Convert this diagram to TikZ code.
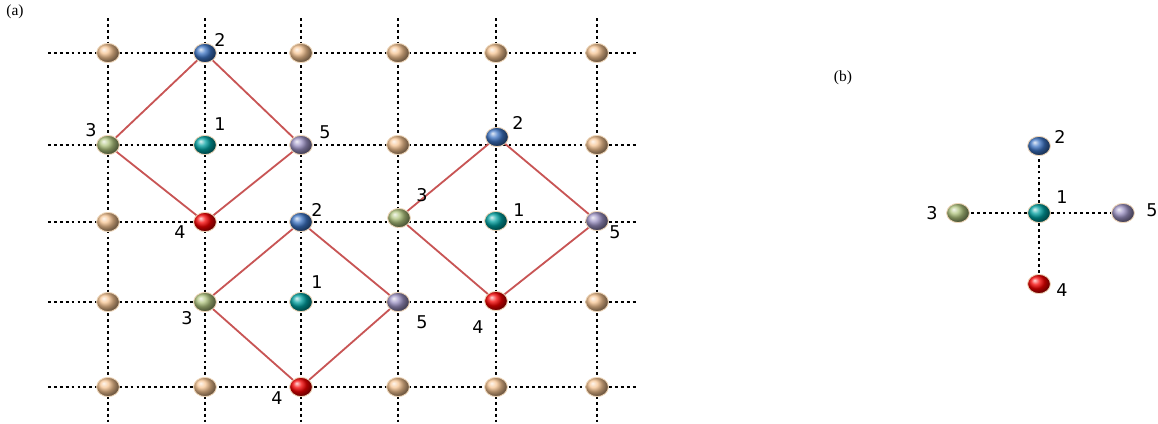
\documentclass[tikz,border=0pt]{standalone}
\usepackage{fontspec}
\setmainfont{Liberation Serif}
\newfontfamily\lblfont{DejaVu Sans}
\usepackage{tikz}
\usetikzlibrary{shapes}
\definecolor{tanc}{RGB}{245,195,145}
\definecolor{bluec}{RGB}{60,115,195}
\definecolor{tealc}{RGB}{0,160,160}
\definecolor{greenc}{RGB}{175,195,125}
\definecolor{lavc}{RGB}{155,145,195}
\definecolor{redc}{RGB}{245,0,0}
\definecolor{linkc}{RGB}{200,85,85}
\tikzstyle{atom}=[ellipse,draw={rgb,255:red,240;green,215;blue,185},line width=0.6pt,
inner sep=0pt,minimum width=0.57cm,minimum height=0.48cm,shading=ball]
\tikzstyle{lbl}=[font=\lblfont\fontsize{12.5}{13}\selectfont,inner sep=0pt]
\tikzstyle{lattice}=[line width=2pt,dash pattern=on 2pt off 2.2pt,black]
\tikzstyle{link}=[line width=1.3pt,linkc]

\begin{document}
\begin{tikzpicture}[x=0.025cm,y=-0.025cm]
        \useasboundingbox (0,0) rectangle (1158,423);
        % lattice lines
        \draw [style=lattice] (48,53) -- (636,53);
        \draw [style=lattice] (48,145) -- (636,145);
        \draw [style=lattice] (48,222) -- (636,222);
        \draw [style=lattice] (48,302) -- (636,302);
        \draw [style=lattice] (48,387) -- (636,387);
        \draw [style=lattice] (108,18) -- (108,423);
        \draw [style=lattice] (205,18) -- (205,423);
        \draw [style=lattice] (301,18) -- (301,423);
        \draw [style=lattice] (398,18) -- (398,423);
        \draw [style=lattice] (496,18) -- (496,423);
        \draw [style=lattice] (597,18) -- (597,423);
        % (a) sites, row by row
        \node [style=atom,ball color=tanc] (n11) at (108,53) {};
        \node [style=atom,ball color=bluec] (n21) at (205,53) {};
        \node [style=atom,ball color=tanc] (n31) at (301,53) {};
        \node [style=atom,ball color=tanc] (n41) at (398,53) {};
        \node [style=atom,ball color=tanc] (n51) at (496,53) {};
        \node [style=atom,ball color=tanc] (n61) at (597,53) {};
        \node [style=atom,ball color=greenc] (n12) at (108,145) {};
        \node [style=atom,ball color=tealc] (n22) at (205,145) {};
        \node [style=atom,ball color=lavc] (n32) at (301,145) {};
        \node [style=atom,ball color=tanc] (n42) at (398,145) {};
        \node [style=atom,ball color=bluec] (n52) at (497,137) {};
        \node [style=atom,ball color=tanc] (n62) at (597,145) {};
        \node [style=atom,ball color=tanc] (n13) at (108,222) {};
        \node [style=atom,ball color=redc] (n23) at (205,222) {};
        \node [style=atom,ball color=bluec] (n33) at (301,222) {};
        \node [style=atom,ball color=greenc] (n43) at (399,218) {};
        \node [style=atom,ball color=tealc] (n53) at (496,221) {};
        \node [style=atom,ball color=lavc] (n63) at (597,221) {};
        \node [style=atom,ball color=tanc] (n14) at (108,302) {};
        \node [style=atom,ball color=greenc] (n24) at (205,302) {};
        \node [style=atom,ball color=tealc] (n34) at (301,302) {};
        \node [style=atom,ball color=lavc] (n44) at (398,302) {};
        \node [style=atom,ball color=redc] (n54) at (496,301) {};
        \node [style=atom,ball color=tanc] (n64) at (597,302) {};
        \node [style=atom,ball color=tanc] (n15) at (108,387) {};
        \node [style=atom,ball color=tanc] (n25) at (205,387) {};
        \node [style=atom,ball color=redc] (n35) at (301,387) {};
        \node [style=atom,ball color=tanc] (n45) at (398,387) {};
        \node [style=atom,ball color=tanc] (n55) at (496,387) {};
        \node [style=atom,ball color=tanc] (n65) at (597,387) {};
        % diamonds
        \draw [style=link] (n21) to (n32);
        \draw [style=link] (n32) to (n23);
        \draw [style=link] (n23) to (n12);
        \draw [style=link] (n12) to (n21);
        \draw [style=link] (n33) to (n44);
        \draw [style=link] (n44) to (n35);
        \draw [style=link] (n35) to (n24);
        \draw [style=link] (n24) to (n33);
        \draw [style=link] (n52) to (n63);
        \draw [style=link] (n63) to (n54);
        \draw [style=link] (n54) to (n43);
        \draw [style=link] (n43) to (n52);
        % site labels
        \node [style=lbl] (l21) at (220,40) {2};
        \node [style=lbl] (l12) at (91,130) {3};
        \node [style=lbl] (l22) at (220,124) {1};
        \node [style=lbl] (l32) at (325,132) {5};
        \node [style=lbl] (l23) at (180,232) {4};
        \node [style=lbl] (l33) at (317,210) {2};
        \node [style=lbl] (l34) at (317,282) {1};
        \node [style=lbl] (l24) at (187,318) {3};
        \node [style=lbl] (l44) at (422,322) {5};
        \node [style=lbl] (l35) at (277,398) {4};
        \node [style=lbl] (l52) at (518,123) {2};
        \node [style=lbl] (l43) at (422,195) {3};
        \node [style=lbl] (l53) at (519,210) {1};
        \node [style=lbl] (l63) at (615,232) {5};
        \node [style=lbl] (l54) at (478,327) {4};
        \node [font=\fontsize{11}{12}\selectfont] (ta) at (15,12) {(a)};
        % (b) cluster
        \node [font=\fontsize{11}{12}\selectfont] (tb) at (843,78) {(b)};
        \node [style=atom,ball color=tealc] (b1) at (1039,213) {};
        \node [style=atom,ball color=bluec] (b2) at (1039,146) {};
        \node [style=atom,ball color=greenc] (b3) at (958,213) {};
        \node [style=atom,ball color=redc] (b4) at (1039,284) {};
        \node [style=atom,ball color=lavc] (b5) at (1123,213) {};
        \draw [style=lattice] (b1) to (b2);
        \draw [style=lattice] (b1) to (b3);
        \draw [style=lattice] (b1) to (b4);
        \draw [style=lattice] (b1) to (b5);
        \node [style=lbl] (lb1) at (1062,197) {1};
        \node [style=lbl] (lb2) at (1060,137) {2};
        \node [style=lbl] (lb3) at (932,213) {3};
        \node [style=lbl] (lb4) at (1062,290) {4};
        \node [style=lbl] (lb5) at (1152,210) {5};
    \end{tikzpicture}
\end{document}
